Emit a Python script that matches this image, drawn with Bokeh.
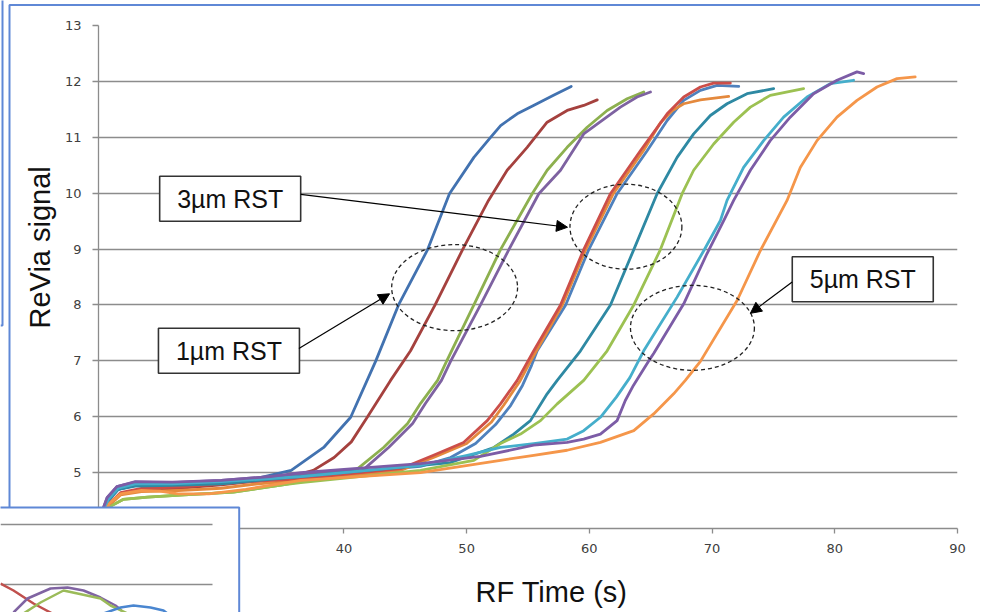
from bokeh.plotting import figure
from bokeh.layouts import column
from bokeh.models import (Range1d, FixedTicker, ColumnDataSource, Arrow, NormalHead, Title)
from bokeh.core.properties import value
from bokeh.embed import file_html
from bokeh.resources import INLINE

# ---------------- data ----------------
x_ticks = [40, 50, 60, 70, 80, 90]
y_ticks = [5, 6, 7, 8, 9, 10, 11, 12, 13]

s1_x = [20.2, 20.8, 21.6, 23.0, 26.0, 30.0, 33.0, 35.7, 38.35, 40.55, 42.58, 44.45, 46.82, 48.6, 50.59, 51.95, 52.77, 54.12, 55.45, 57.08, 58.52]
s1_y = [4.2, 4.5, 4.7, 4.78, 4.8, 4.84, 4.9, 5.04, 5.45, 5.99, 6.99, 8.0, 8.99, 9.99, 10.64, 11.0, 11.21, 11.42, 11.57, 11.75, 11.91]

s2_x = [20.3, 20.9, 21.8, 23.5, 26.5, 30.0, 33.0, 35.7, 37.5, 39.2, 40.6, 41.9, 43.8, 45.43, 47.43, 49.67, 51.78, 53.3, 54.93, 56.56, 58.19, 59.54, 60.64]
s2_y = [4.2, 4.45, 4.62, 4.7, 4.72, 4.78, 4.85, 4.93, 5.04, 5.27, 5.55, 5.99, 6.65, 7.18, 8.0, 8.99, 9.87, 10.41, 10.82, 11.27, 11.48, 11.57, 11.67]

s3_x = [20.4, 21.0, 22.0, 24.0, 27.0, 31.0, 35.0, 38.5, 40.95, 43.23, 45.19, 46.25, 47.63, 48.36, 50.59, 52.76, 55.34, 56.56, 58.19, 59.82, 61.45, 63.08, 64.43]
s3_y = [4.2, 4.4, 4.52, 4.56, 4.6, 4.65, 4.78, 4.92, 5.04, 5.45, 5.88, 6.24, 6.65, 6.99, 8.0, 8.99, 9.99, 10.41, 10.82, 11.18, 11.48, 11.69, 11.81]

s4_x = [20.2, 20.7, 21.5, 23.0, 26.0, 30.0, 34.0, 38.0, 41.52, 43.64, 45.6, 46.65, 47.95, 48.69, 51.13, 53.44, 55.88, 57.65, 59.54, 62.53, 63.89, 64.98]
s4_y = [4.25, 4.55, 4.75, 4.83, 4.82, 4.86, 4.93, 5.0, 5.04, 5.45, 5.88, 6.24, 6.65, 6.99, 8.0, 8.99, 9.99, 10.41, 11.06, 11.54, 11.72, 11.81]

s5_x = [20.3, 20.9, 21.8, 23.5, 26.5, 30.0, 33.0, 36.48, 40.0, 44.62, 47.3, 49.75, 51.68, 52.76, 54.12, 55.47, 57.65, 59.54, 61.72, 64.16, 66.34, 67.69, 69.05, 70.13, 71.49]
s5_y = [4.2, 4.45, 4.64, 4.72, 4.74, 4.8, 4.85, 4.89, 4.97, 5.07, 5.31, 5.54, 5.93, 6.23, 6.65, 7.18, 8.0, 8.99, 9.99, 10.76, 11.42, 11.72, 11.9, 11.97, 11.97]

s6_x = [20.2, 20.8, 21.6, 23.0, 26.0, 30.0, 33.0, 36.48, 46.24, 48.69, 50.73, 52.36, 53.58, 54.55, 55.29, 55.75, 58.07, 59.95, 62.26, 64.71, 66.34, 67.69, 69.05, 70.41, 72.17]
s6_y = [4.2, 4.5, 4.7, 4.77, 4.78, 4.82, 4.87, 4.93, 5.11, 5.27, 5.52, 5.86, 6.2, 6.56, 6.92, 7.18, 8.0, 8.99, 9.99, 10.76, 11.3, 11.66, 11.84, 11.93, 11.91]

s7_x = [20.3, 20.9, 21.8, 23.5, 26.5, 30.0, 33.0, 36.48, 44.62, 47.5, 50.0, 52.0, 53.0, 54.3, 55.1, 57.8, 59.7, 61.95, 64.4, 65.79, 66.77, 67.69, 69.05, 71.35]
s7_y = [4.2, 4.42, 4.6, 4.66, 4.68, 4.72, 4.8, 4.86, 5.04, 5.29, 5.52, 5.9, 6.2, 6.62, 6.95, 8.0, 8.99, 9.99, 10.76, 11.26, 11.48, 11.6, 11.67, 11.73]

s8_x = [20.2, 20.8, 21.6, 23.0, 26.0, 30.0, 33.0, 36.48, 48.69, 52.22, 53.84, 55.2, 56.56, 57.38, 59.28, 61.72, 63.62, 65.52, 67.15, 68.5, 69.86, 71.22, 72.85, 75.02]
s8_y = [4.2, 4.5, 4.7, 4.76, 4.77, 4.8, 4.86, 4.93, 5.18, 5.45, 5.69, 5.93, 6.41, 6.65, 7.18, 8.0, 8.99, 9.99, 10.64, 11.06, 11.39, 11.6, 11.78, 11.87]

s9_x = [20.4, 21.0, 22.0, 24.0, 27.0, 31.0, 35.0, 36.48, 46.24, 50.59, 52.76, 54.39, 56.02, 57.38, 59.54, 61.45, 63.62, 65.79, 67.56, 68.5, 70.13, 71.76, 73.12, 74.74, 77.46]
s9_y = [4.2, 4.4, 4.52, 4.56, 4.6, 4.65, 4.78, 4.82, 5.04, 5.22, 5.52, 5.69, 5.93, 6.23, 6.65, 7.18, 8.0, 8.99, 9.99, 10.41, 10.88, 11.27, 11.54, 11.75, 11.87]

s10_x = [20.2, 20.7, 21.5, 23.0, 26.0, 30.0, 34.0, 36.48, 46.24, 51.13, 55.47, 58.19, 59.54, 60.9, 62.26, 62.93, 63.59, 64.81, 65.24, 67.69, 69.59, 70.95, 71.76, 73.12, 74.74, 76.37, 78.27, 80.18, 81.81, 82.35]
s10_y = [4.25, 4.55, 4.75, 4.84, 4.83, 4.86, 4.93, 5.0, 5.16, 5.29, 5.49, 5.54, 5.6, 5.69, 5.93, 6.29, 6.56, 6.99, 7.13, 8.02, 8.92, 9.51, 9.87, 10.41, 10.94, 11.36, 11.78, 12.02, 12.17, 12.14]

s11_x = [20.2, 20.8, 21.6, 23.0, 26.0, 30.0, 33.0, 36.48, 46.24, 50.05, 52.76, 55.47, 58.19, 59.54, 60.9, 62.2, 63.3, 64.43, 67.15, 69.32, 70.68, 71.22, 72.57, 74.2, 75.83, 77.74, 79.63, 81.53]
s11_y = [4.22, 4.52, 4.72, 4.8, 4.8, 4.84, 4.88, 4.93, 5.13, 5.31, 5.45, 5.52, 5.6, 5.75, 5.99, 6.35, 6.7, 7.18, 8.14, 8.97, 9.51, 9.87, 10.46, 10.94, 11.36, 11.72, 11.96, 12.02]

s12_x = [20.3, 20.9, 21.8, 23.5, 25.0, 26.5, 29.0, 32.0, 36.48, 46.24, 52.76, 55.47, 58.19, 60.9, 63.62, 65.24, 66.87, 67.82, 69.05, 72.04, 73.93, 76.11, 77.19, 78.55, 80.18, 81.81, 83.44, 85.07, 86.55]
s12_y = [4.2, 4.45, 4.62, 4.68, 4.67, 4.62, 4.62, 4.7, 4.86, 5.0, 5.22, 5.31, 5.4, 5.54, 5.75, 6.05, 6.41, 6.65, 6.99, 8.08, 8.97, 9.87, 10.46, 10.94, 11.36, 11.66, 11.9, 12.05, 12.08]

series_x = [s1_x, s2_x, s3_x, s4_x, s6_x, s7_x, s5_x, s8_x, s9_x, s11_x, s10_x, s12_x]
series_y = [s1_y, s2_y, s3_y, s4_y, s6_y, s7_y, s5_y, s8_y, s9_y, s11_y, s10_y, s12_y]
series_colors = ["#4272B0", "#A5413E", "#8DB04F", "#7E62A1", "#4F81BD", "#E4893D",
                 "#CC4E49", "#2E89A3", "#9CC152", "#45AECB", "#7C5CA6", "#F5964A"]

# callout boxes
box_text = ["3µm RST", "1µm RST", "5µm RST"]
box_x = [30.73, 30.63, 82.28]
box_y = [9.90, 7.18, 8.46]

# arrows (from box to group)
arr_x0 = [36.48, 36.33, 76.53]
arr_y0 = [9.98, 7.22, 8.41]
arr_x1 = [58.22, 43.72, 73.12]
arr_y1 = [9.39, 8.20, 7.85]

# dashed ellipses around each group
ell_x = [62.98, 49.02, 68.40]
ell_y = [9.40, 8.31, 7.59]
ell_w = [9.12, 10.26, 10.10]
ell_h = [1.52, 1.54, 1.52]

# fragment of another slide chart overlapping the bottom-left corner (its own units)
inset_box = dict(left=[-10], right=[238.7], top=[105], bottom=[-10])
inset_grid_y = [88, 28]
inset_grid_x = [0, 212]
inset_red_x = [0, 13, 33, 50, 56]
inset_red_y = [29, 22, 9, 0, -4]
inset_purple_x = [13, 27, 50, 67, 83, 100, 115, 121]
inset_purple_y = [0, 14, 24, 25, 22, 15, 7, 2]
inset_green_x = [23, 40, 63, 77, 100, 110, 127]
inset_green_y = [-1, 10, 22, 19, 14, 7, -1]
inset_blue_x = [103, 120, 133, 150, 163, 167]
inset_blue_y = [-1, 5, 7, 5, 2, -1]

# slide frame lines and x title position (page pixels)
frame_outer_x = [2, 2, 0]
frame_outer_y = [-5, 325, 325]
frame_inner_x = [985, 9, 9]
frame_inner_y = [4.5, 4.5, 520]
xtitle_x, xtitle_y = [551], [591]

W, H = 980, 612
blue_frame = "#5f88d6"
grey = "#8c8c8c"

# ---------------- background (slide frame lines, x title) ----------------
bg = figure(width=W, height=H, output_backend="svg", toolbar_location=None,
            x_range=Range1d(0, W), y_range=Range1d(H, 0),
            x_axis_location=None, y_axis_location=None, frame_align=False,
            min_border=0, min_border_left=0, min_border_right=0, min_border_top=0, min_border_bottom=0)
bg.grid.visible = False
bg.outline_line_color = None
bg.title.visible = False
bg.line(frame_outer_x, frame_outer_y, line_color=blue_frame, line_width=2)
bg.line(frame_inner_x, frame_inner_y, line_color=blue_frame, line_width=2)
bg.text(x=xtitle_x, y=xtitle_y, text=["RF Time (s)"], text_font=value("Liberation Sans"),
        text_font_size="29px", text_color="#111111", text_align="center", text_baseline="middle")

# ---------------- main chart ----------------
p = figure(width=W, height=H, output_backend="svg", toolbar_location=None,
           x_range=Range1d(20, 90), y_range=Range1d(4, 13), frame_align=False,
           min_border_left=98, min_border_right=23, min_border_top=25, min_border_bottom=84)
p.title.visible = False
p.outline_line_color = None
p.background_fill_color = "white"
p.border_fill_alpha = 0
p.margin = (-H, 0, 0, 0)

p.xgrid.visible = False
p.ygrid.grid_line_color = grey
p.ygrid.grid_line_width = 1.3
p.ygrid.ticker = FixedTicker(ticks=y_ticks)

p.xaxis.ticker = FixedTicker(ticks=x_ticks)
p.yaxis.ticker = FixedTicker(ticks=y_ticks)
for ax in (p.xaxis, p.yaxis):
    ax.axis_line_color = grey
    ax.axis_line_width = 1.3
    ax.major_tick_line_color = grey
    ax.major_tick_line_width = 1.3
    ax.major_tick_in = 0
    ax.minor_tick_line_color = None
    ax.major_label_text_font = "DejaVu Sans"
    ax.major_label_text_font_size = "13px"
    ax.major_label_text_color = "#404040"
p.xaxis.major_tick_out = 5
p.yaxis.major_tick_out = 6
p.xaxis.major_label_standoff = 10
p.yaxis.major_label_standoff = 11

p.add_layout(Title(text="ReVia signal", align="left", offset=200, standoff=12,
                   text_font="Liberation Sans", text_font_size="29px",
                   text_font_style="normal", text_color="#111111"), "left")

for xs, ys, c in zip(series_x, series_y, series_colors):
    p.line(xs, ys, line_color=c, line_width=2.8, line_join="round", line_cap="round")

ell_src = ColumnDataSource(dict(x=ell_x, y=ell_y, w=ell_w, h=ell_h))
p.ellipse(x="x", y="y", width="w", height="h", source=ell_src, fill_alpha=0,
          line_color="#222222", line_width=1.3, line_dash="4 3")

box_src = ColumnDataSource(dict(x=box_x, y=box_y, t=box_text))
p.rect(x="x", y="y", width=141, height=45, width_units="screen", height_units="screen",
       source=box_src, fill_color="white", line_color="#333333", line_width=1.6)
p.text(x="x", y="y", text="t", source=box_src, text_font=value("Liberation Sans"),
       text_font_size="25px", text_color="#111111", text_align="center", text_baseline="middle")

arr_src = ColumnDataSource(dict(x0=arr_x0, y0=arr_y0, x1=arr_x1, y1=arr_y1))
p.add_layout(Arrow(end=NormalHead(size=11, fill_color="black", line_color="black"),
                   x_start="x0", y_start="y0", x_end="x1", y_end="y1", source=arr_src,
                   line_color="black", line_width=1.2))

# ---------------- overlapping fragment (bottom-left) ----------------
IW, IH = 241, 107
inset = figure(width=IW, height=IH, output_backend="svg", toolbar_location=None,
               x_range=Range1d(0, IW), y_range=Range1d(0, IH),
               x_axis_location=None, y_axis_location=None, frame_align=False,
               min_border=0, min_border_left=0, min_border_right=0, min_border_top=0, min_border_bottom=0)
inset.grid.visible = False
inset.outline_line_color = None
inset.title.visible = False
inset.background_fill_alpha = 0
inset.border_fill_alpha = 0
inset.margin = (-IH, 0, 0, 0)
inset.quad(source=ColumnDataSource(inset_box), left="left", right="right", top="top", bottom="bottom",
           fill_color="white", fill_alpha=1, line_color=blue_frame, line_width=2)
for gy in inset_grid_y:
    inset.line(inset_grid_x, [gy, gy], line_color=grey, line_width=1.3)
for xs, ys, c in [(inset_red_x, inset_red_y, "#C0504D"), (inset_purple_x, inset_purple_y, "#8064A2"),
                  (inset_green_x, inset_green_y, "#9BBB59"), (inset_blue_x, inset_blue_y, "#4A86D0")]:
    inset.line(xs, ys, line_color=c, line_width=2.5)

layout = column(bg, p, inset, spacing=0)
open("out.html", "w").write(file_html(layout, INLINE))
